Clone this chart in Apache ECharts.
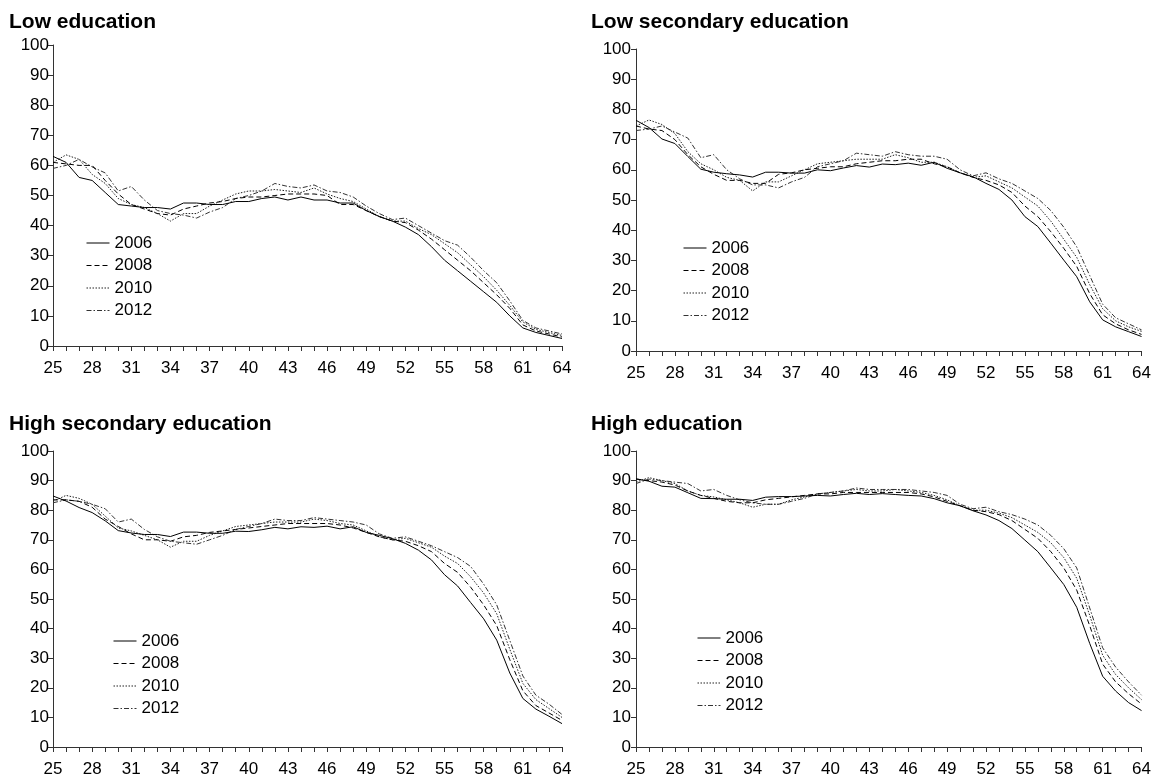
<!DOCTYPE html>
<html>
<head>
<meta charset="utf-8">
<script src="https://cdn.jsdelivr.net/npm/echarts@6/dist/echarts.min.js"></script>
<style>html,body{margin:0;padding:0;background:#fff}#c{width:1154px;height:778px}</style>
</head>
<body>
<div id="c"></div>
<script>
const ages = [];
for (let a = 25; a <= 64; a++) ages.push(String(a));
const years = ['2006', '2008', '2010', '2012'];
const panelTitles = ['Low education', 'Low secondary education', 'High secondary education', 'High education'];
const yTicks = [0, 10, 20, 30, 40, 50, 60, 70, 80, 90, 100];

const lowEdu2006 = [63,61,56,55,51,47,46.5,46,46,45.5,47.5,47.5,47,47,48,48,49,49.5,48.5,49.5,48.5,48.5,47.5,47.5,45,43,41.5,39.5,37,33,28.5,25,21.5,18,14.5,10,6,4.5,3.5,2.5];
const lowEdu2008 = [61,60.5,60,60,55,50.5,47,45.5,44,43.5,45.5,46.5,47.5,48,49,49.5,49.5,50,50.5,50.5,50.5,50,47,47,45,43,41.5,41,38.5,35.5,32,28.5,25,21,17,12.5,7,5,4,3];
const lowEdu2010 = [61,63.5,62,57,54,49,47,46,44,41.5,44,44,46.5,48.5,50.5,51.5,51.5,52,51.5,51,52.5,50.5,49,48,45.5,43,41.5,41.5,39,37,34,31,27,23,18.5,13.5,8,5.5,4.5,3.5];
const lowEdu2012 = [59,60,62,59.5,57.5,51.5,53,48.5,45,44,43.5,42.5,44.5,46,49,50,51.5,54,53,52.5,53.5,51.5,51,49.5,46.5,44,42,42.5,40,37.5,35,33.5,29.5,25,21,15,8.5,6,5,4];

const lowSec2006 = [76.4,74,70.2,68.7,64.4,60.2,59.2,58.7,58.3,57.6,59.2,59.2,58.9,58.9,60,59.7,60.6,61.4,60.9,61.9,61.7,62.2,61.5,62.5,60.5,59,57.7,55.5,53.5,50,44.5,41.2,35.7,30.1,24.6,16.3,10.3,8,6.4,4.8];
const lowSec2008 = [74.5,73.5,73,70,65,61,58.5,56.5,56.5,55.5,55.5,58.5,59,60,60.5,61,61,62,62.5,63,63,63.5,63.5,62,61,59,57.5,56.5,55,52.5,48,44.5,39.5,34,28,19,12,9,7,5.5];
const lowSec2010 = [74.5,76.5,75,72,66,62,60,57.5,56.5,53,56,56,58,60,62,62.5,63,63.5,63.5,63.5,65,64,62.5,62.5,61,59,57.5,58,56,54,51,48,43,37,31,22,14,10,8,6.5];
const lowSec2012 = [73,73.5,74.5,72.5,70.5,64,65,60,57,55,55,54,56,57.5,61,62,63,65.5,65,64.5,66,65,64.5,64.5,63.5,60,58,59,57,55.5,53,50.5,46.5,41,34.5,25,15.5,11,9,7];

const highSec2006 = [84.8,83.1,80.9,79.2,76.4,73.1,72.3,71.8,71.8,71.1,72.6,72.6,72.2,72.2,72.9,72.8,73.4,74.2,73.7,74.4,74.2,74.6,73.7,74.4,72.5,71.5,70.4,68.8,66.5,63.2,58.2,54.4,48.8,43.3,36.1,25,16.4,12.8,10.4,7.9];
const highSec2008 = [83.5,83.5,83,81,77,74.5,72,70,70,69.5,71,71.5,72.5,73,73.5,74,74.5,75,75.5,75.5,75.5,75.5,75,74,72.5,71,70,69.5,68,66,62,59,54,48,41,29.5,19,14,11.5,9];
const highSec2010 = [83,85,84,82,78,74,73,71.5,70,67.5,69.5,69.5,71.5,73,74.5,75,75.5,76,76,76,77,76.5,75.5,75,73,71,70,70.5,69,67.5,64.5,62,57.5,52,45,33,21.5,16,13,10];
const highSec2012 = [82.5,83.5,83,82,80.5,76,77,73.5,71,69.5,69,68.5,70,71.5,73.5,74.5,75.5,77,76.5,76.5,77.5,77,76.5,76,75,72,70.5,71,69.5,68,66,64,61,55,48,36,24,17.5,14.5,11];

const highEdu2006 = [90.6,89.8,88.1,87.8,85.9,84,83.9,83.7,83.7,83.3,84.4,84.6,84.6,84.8,85,84.8,85.3,85.7,85.3,85.6,85.3,85,84.8,83.9,82.5,81.5,79.8,78.4,76.5,73.8,69.9,66,60.5,54.9,47.2,35,23.9,18.9,15,12.3];
const highEdu2008 = [90.5,90,89.5,88.5,86.5,85,84,83,82.5,82.5,83.5,84,84.5,85,85.5,85.5,86,86,86,86,86,86,85.5,84.5,83,81.5,80,79.5,78.5,76.5,73.5,70.5,66,60.5,53,41,28,22,18,14.5];
const highEdu2010 = [89.5,91,90,89,86.5,85,84.5,83.5,82.5,81,82,82,83.5,84.5,85.5,86,86.5,87,86.5,86.5,87,86.5,86,85,83.5,81.5,80,80,79,77.5,75,72.5,69,64,57,44.5,31,24.5,20,16];
const highEdu2012 = [89,90.5,90,89.5,89,86.5,87,85,83.5,82.5,82,82,83,84,85.5,86,86.5,87.5,87,87,87,87,86.5,86,85,82,80.5,81,79.5,78.5,77,75,71.5,67,60.5,47,33.5,27,22,17.5];

const panelData = [
  [lowEdu2006, lowEdu2008, lowEdu2010, lowEdu2012],
  [lowSec2006, lowSec2008, lowSec2010, lowSec2012],
  [highSec2006, highSec2008, highSec2010, highSec2012],
  [highEdu2006, highEdu2008, highEdu2010, highEdu2012]
];

const FONT = '"Liberation Sans", Arial, sans-serif';
const grids = [
  {left: 53, top: 45, width: 509, height: 301},
  {left: 636, top: 49, width: 508, height: 302},
  {left: 53, top: 451, width: 509, height: 301},
  {left: 636, top: 451, width: 508, height: 301}
];
const titlePos = [{left: 9, top: 12}, {left: 591, top: 12}, {left: 9, top: 414}, {left: 591, top: 414}];
const legendPos = [{left: 86, top: 234.5}, {left: 683, top: 239.5}, {left: 113, top: 632.5}, {left: 697, top: 629.5}];
const lineStyles = [
  {type: 'solid', color: '#000'},
  {type: [5, 3], color: '#000'},
  {type: [1.5, 1.5], color: '#222'},
  {type: [5, 2, 1.5, 2], color: '#333'}
];
const axisColor = '#333';

const option = {
  animation: false,
  backgroundColor: '#fff',
  title: panelTitles.map((t, i) => ({
    text: t, left: titlePos[i].left, top: titlePos[i].top, padding: 0,
    textStyle: {fontFamily: FONT, fontSize: 21, fontWeight: 'bold', color: '#000'}
  })),
  grid: grids.map(g => Object.assign({containLabel: false}, g)),
  legend: legendPos.map(p => ({
    data: years, orient: 'vertical', left: p.left, top: p.top, padding: 0,
    itemWidth: 23, itemHeight: 14, itemGap: 5.5, selectedMode: false,
    itemStyle: {opacity: 0},
    lineStyle: {width: 1},
    textStyle: {fontFamily: FONT, fontSize: 17, lineHeight: 17, color: '#000'}
  })),
  xAxis: grids.map((g, i) => ({
    type: 'category', gridIndex: i, data: ages, boundaryGap: false,
    axisLine: {show: true, lineStyle: {color: axisColor, width: 1}},
    axisTick: {show: true, interval: 0, length: 5, inside: false, lineStyle: {color: axisColor}},
    axisLabel: {interval: 2, margin: 14, fontFamily: FONT, fontSize: 17, color: '#000'},
    splitLine: {show: false}
  })),
  yAxis: grids.map((g, i) => ({
    type: 'value', gridIndex: i, min: yTicks[0], max: yTicks[yTicks.length - 1], interval: 10,
    axisLine: {show: true, lineStyle: {color: axisColor, width: 1}},
    axisTick: {show: true, length: 5, lineStyle: {color: axisColor}},
    axisLabel: {margin: i % 2 === 0 ? 4 : 5, fontFamily: FONT, fontSize: 17, color: '#000'},
    splitLine: {show: false}
  })),
  series: []
};

panelData.forEach((arrs, p) => {
  arrs.forEach((vals, k) => {
    option.series.push({
      type: 'line', name: years[k], xAxisIndex: p, yAxisIndex: p,
      data: vals, symbol: 'none', showSymbol: false, smooth: false,
      lineStyle: {width: 1, type: lineStyles[k].type, color: lineStyles[k].color},
      itemStyle: {color: lineStyles[k].color},
      emphasis: {disabled: true}, silent: true, z: 4 - k
    });
  });
});

const chart = echarts.init(document.getElementById('c'), null, {renderer: 'canvas'});
chart.setOption(option);
</script>
</body>
</html>
